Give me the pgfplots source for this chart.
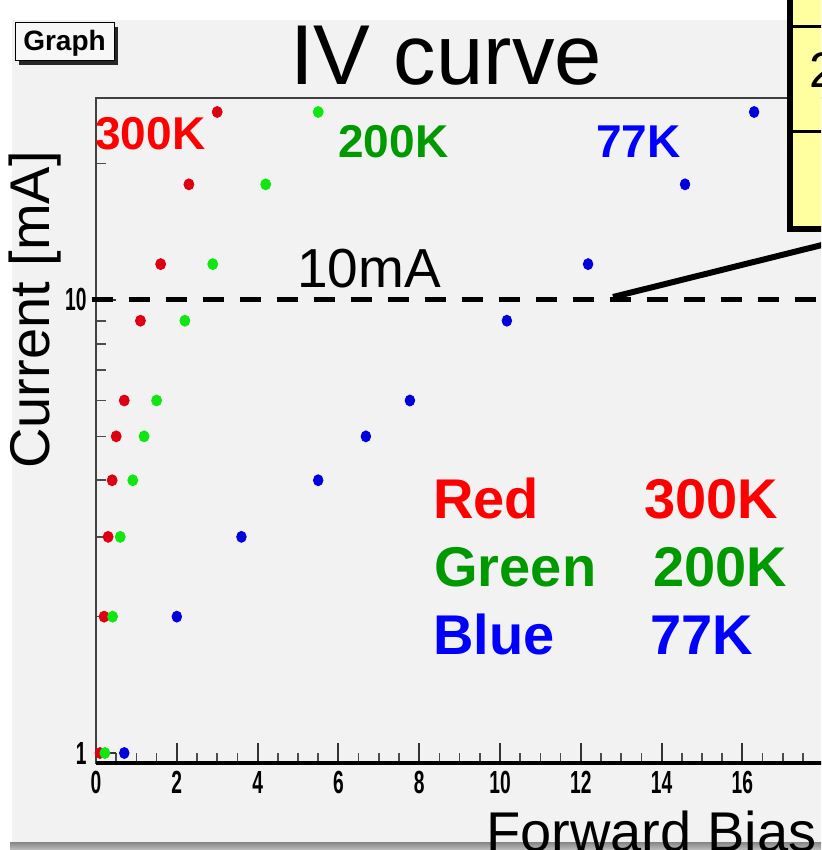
\documentclass[border=0pt]{standalone}
\usepackage{pgfplots}
\pgfplotsset{compat=1.18}
\usepackage{graphicx}
\usepackage{fontspec}
\setmainfont{Liberation Sans}
\definecolor{cg}{RGB}{242,242,242}
\definecolor{tred}{RGB}{255,0,0}
\definecolor{tgreen}{RGB}{0,153,0}
\definecolor{tblue}{RGB}{0,0,255}
\definecolor{dred}{RGB}{222,0,16}
\definecolor{dgreen}{RGB}{16,230,16}
\definecolor{dblue}{RGB}{0,0,220}
\definecolor{boxyellow}{RGB}{255,255,160}
\newcommand{\tl}[1]{\scalebox{0.6}[1]{\bfseries #1}}
\begin{document}
\begin{tikzpicture}[x=0.5pt,y=0.5pt]
\useasboundingbox (0,0) rectangle (821,850);
\begin{scope}
\clip (0,0) rectangle (821,850);
\fill[white] (0,0) rectangle (821,850);
\fill[cg] (12,7) rectangle (821,830);
\shade[top color=black!45, bottom color=black!25] (10,0) rectangle (821,7);
% Graph button
\fill[black!85] (19,785) rectangle (118,823);
\filldraw[fill=black!3, draw=black, line width=0.5pt] (15,789) rectangle (114,827);
\node[font=\fontsize{14}{14}\selectfont\bfseries, inner sep=0pt] at (64.5,807) {Graph};
% title
\node[font=\fontsize{42.5}{44}\selectfont, anchor=base, inner sep=0pt] at (446,765) {IV curve};
% y label
\node[font=\fontsize{28}{30}\selectfont, rotate=90, anchor=base, inner sep=0pt] at (49,540) {Current [mA]};
% x label
\node[font=\fontsize{28}{30}\selectfont, anchor=base west, inner sep=0pt] at (486,-2) {Forward Bias};

\begin{axis}[
  at={(48pt,43.5pt)}, anchor=south west,
  scale only axis, width=383.8pt, height=332.5pt,
  xmin=0, xmax=19,
  ymode=log, ymin=0.9505, ymax=27.92,
  axis line style={draw=black!75, line width=1pt},
  xtick={0,2,4,6,8,10,12,14,16},
  xticklabels={\tl{0},\tl{2},\tl{4},\tl{6},\tl{8},\tl{10},\tl{12},\tl{14},\tl{16}},
  minor xtick={0.5,1,1.5,2.5,3,3.5,4.5,5,5.5,6.5,7,7.5,8.5,9,9.5,10.5,11,11.5,12.5,13,13.5,14.5,15,15.5,16.5,17,17.5},
  ytick={1,10},
  yticklabels={\tl{1},\tl{10}},
  minor ytick={2,3,4,5,6,7,8,9,20},
  xtick pos=left, ytick pos=left,
  tick align=inside,
  major tick length=10pt, minor tick length=5pt,
  every tick/.style={black!80, line width=1pt},
  minor tick style={black!70, line width=0.8pt},
  xticklabel style={font=\fontsize{16}{16}\selectfont, anchor=north, inner sep=0pt, yshift=-4pt},
  yticklabel style={font=\fontsize{16}{16}\selectfont, anchor=east, inner sep=0pt, xshift=-4.5pt},
  clip=false,
]
\draw[black, line width=2.5pt, dash pattern=on 10.5pt off 8pt] (axis cs:-0.11,10) -- (axis cs:19,10);
\draw[black, line width=1.6pt] (rel axis cs:0,0) -- (rel axis cs:1,0);
\addplot[dred, only marks, mark=*, mark size=2.5pt, mark options={draw=none, fill=dred, yscale=1.1}] coordinates {
(0.1,1) (0.2,2) (0.3,3) (0.4,4) (0.5,5) (0.7,6) (1.1,9) (1.6,12) (2.3,18) (3.0,26)};
\addplot[dgreen, only marks, mark=*, mark size=2.5pt, mark options={draw=none, fill=dgreen, yscale=1.1}] coordinates {
(0.22,1) (0.41,2) (0.6,3) (0.91,4) (1.19,5) (1.5,6) (2.2,9) (2.89,12) (4.2,18) (5.5,26)};
\addplot[dblue, only marks, mark=*, mark size=2.4pt, mark options={draw=none, fill=dblue, yscale=1.15}] coordinates {
(0.7,1) (2.0,2) (3.6,3) (5.5,4) (6.68,5) (7.77,6) (10.17,9) (12.18,12) (14.58,18) (16.29,26)};
\end{axis}

% annotations inside plot
\begin{scope}[every node/.style={anchor=base west, inner sep=0pt}]
\node[font=\fontsize{23}{24}\selectfont\bfseries, text=tred] at (95,700) {300K};
\node[font=\fontsize{23}{24}\selectfont\bfseries, text=tgreen] at (338,692) {200K};
\node[font=\fontsize{23}{24}\selectfont\bfseries, text=tblue] at (596,692) {77K};
\node[font=\fontsize{27.5}{28}\selectfont] at (297,562) {10mA};
\node[font=\fontsize{28}{30}\selectfont\bfseries, text=tred] at (433,331) {Red};
\node[font=\fontsize{28}{30}\selectfont\bfseries, text=tred] at (644,331) {300K};
\node[font=\fontsize{28}{30}\selectfont\bfseries, text=tgreen] at (434,263) {Green};
\node[font=\fontsize{28}{30}\selectfont\bfseries, text=tgreen] at (653,263) {200K};
\node[font=\fontsize{28}{30}\selectfont\bfseries, text=tblue] at (433,195) {Blue};
\node[font=\fontsize{28}{30}\selectfont\bfseries, text=tblue] at (650,195) {77K};
\end{scope}

% pointer line and yellow box
\draw[black, line width=3pt] (613,553) -- (830,607);
\filldraw[fill=boxyellow, draw=black, line width=3pt] (790,621) rectangle (840,870);
\draw[black, line width=1.5pt] (790,823) -- (840,823);
\draw[black, line width=1.5pt] (790,718) -- (840,718);
\node[font=\fontsize{25}{26}\selectfont, anchor=base west, inner sep=0pt] at (809,762) {2};
\end{scope}
\end{tikzpicture}
\end{document}
